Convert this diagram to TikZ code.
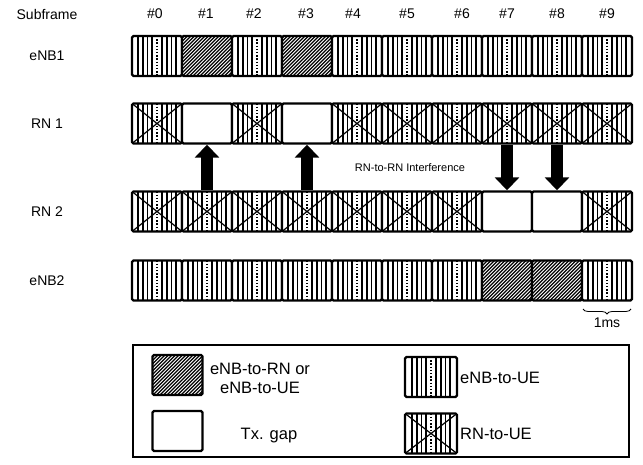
\documentclass[tikz,border=0pt]{standalone}
\usepackage{fontspec}
\setmainfont{Liberation Sans}
\usetikzlibrary{arrows.meta,decorations.pathreplacing}
\newcommand\myVL{%
  \foreach \k in {-4,-3,-2,-1,1,2,3,4}{\draw[line width=1.8pt] ([xshift=\k*4.8pt]path picture bounding box.north) -- ([xshift=\k*4.8pt]path picture bounding box.south);}%
  \draw[line width=1.4pt, dash pattern=on 1.4pt off 1.8pt] (path picture bounding box.north) -- (path picture bounding box.south);}
\newcommand\myHatch{%
  \foreach \k in {-20,...,8}{\draw[line width=1.1pt] ([xshift=\k*3.5pt]path picture bounding box.south) -- ++(48pt,48pt);}}
\newcommand\myCross{%
  \myVL
  \draw[line width=1.2pt] (path picture bounding box.north west) -- (path picture bounding box.south east)
    (path picture bounding box.north east) -- (path picture bounding box.south west);}
\begin{document}
\begin{tikzpicture}[x=1pt,y=-1pt,
  sf/.style={draw, line width=2.4pt, rounded corners=1.5pt, minimum width=50pt, minimum height=40pt, inner sep=0pt, fill=white},
  pv/.style={path picture={\myVL}},
  ph/.style={path picture={\myHatch}},
  px/.style={path picture={\myCross}},
  pg/.style={},
  lab/.style={font=\fontsize{14}{16}\selectfont, inner sep=0pt},
  legtxt/.style={font=\fontsize{16.5}{19}\selectfont, inner sep=0pt, align=center},
  bigarrow/.style={line width=12pt, -{Triangle[width=24pt,length=13pt]}}]
\useasboundingbox (0,0) rectangle (643,465);

% labels
\node[lab] (tsub) at (47,14) {Subframe};
\foreach \t/\xx [count=\i from 0] in {0/155,1/206,2/254,3/306,4/353,5/407,6/462,7/507,8/557,9/607}
  \node[lab] (tn\i) at (\xx,14) {\#\t};
\node[lab] (le1) at (47,56) {eNB1};
\node[lab] (lr1) at (47,124) {RN 1};
\node[lab] (lr2) at (47,212) {RN 2};
\node[lab] (le2) at (47,281) {eNB2};

% rows
\foreach \p [count=\i from 0] in {pv,ph,pv,ph,pv,pv,pv,pv,pv,pv}
  \node[sf,\p] (a\i) at (157+50*\i,56) {};
\foreach \p [count=\i from 0] in {px,pg,px,pg,px,px,px,px,px,px}
  \node[sf,\p] (b\i) at (157+50*\i,123.5) {};
\foreach \p [count=\i from 0] in {px,px,px,px,px,px,px,pg,pg,px}
  \node[sf,\p] (c\i) at (157+50*\i,211.5) {};
\foreach \p [count=\i from 0] in {pv,pv,pv,pv,pv,pv,pv,ph,ph,pv}
  \node[sf,\p] (d\i) at (157+50*\i,280.5) {};

% arrows
\draw[bigarrow] (c1.north) -- (b1.south);
\draw[bigarrow] (c3.north) -- (b3.south);
\draw[bigarrow] (b7.south) -- (c7.north);
\draw[bigarrow] (b8.south) -- (c8.north);
\node[font=\fontsize{11}{13}\selectfont, inner sep=0pt] (intf) at (410,168) {RN-to-RN Interference};

% brace
\coordinate (br1) at (583,309);
\coordinate (br2) at (631,309);
\draw[line width=0.8pt, decorate, decoration={brace, mirror, amplitude=5pt}] (br1) -- (br2);
\node[lab] (ms) at (607,323) {1ms};

% legend
\node[draw, line width=1.5pt, minimum width=496pt, minimum height=112pt, inner sep=0pt] (leg) at (381,401) {};
\node[sf,ph] (lh) at (177.5,375) {};
\node[sf,pg] (lg) at (177.5,431) {};
\node[sf,pv, minimum width=52pt] (lv) at (431,377) {};
\node[sf,px, minimum width=52pt] (lx) at (431,433.5) {};
\node[legtxt] (th) at (260,378) {eNB-to-RN or\\eNB-to-UE};
\node[legtxt] (tg) at (269,436) {Tx. gap};
\node[legtxt, anchor=west] (tv) at (460,378) {eNB-to-UE};
\node[legtxt, anchor=west] (tx) at (460,434) {RN-to-UE};
\end{tikzpicture}
\end{document}
